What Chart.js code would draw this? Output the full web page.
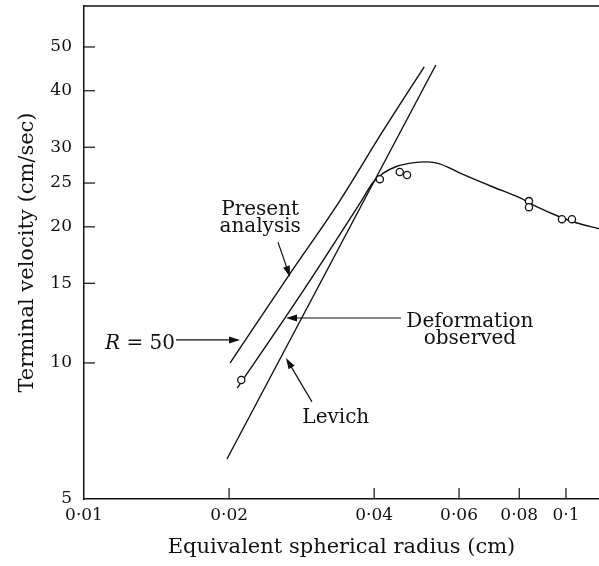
<!DOCTYPE html>
<html>
<head>
<meta charset="utf-8">
<script src="https://cdn.jsdelivr.net/npm/chart.js@4"></script>
<style>
  body { margin: 0; background: #fff; }
  canvas { display: block; }
</style>
</head>
<body>
<canvas id="myChart" width="599" height="566"></canvas>
<script>
// values (x: radius in cm, y: velocity in cm/sec)
const presentX = [0.0201, 0.0268, 0.0340, 0.0415, 0.0508];
const presentY = [10.0, 15.8, 22.9, 32.3, 45.2];

const levichX = [0.0198, 0.0537];
const levichY = [6.13, 45.6];

const observedX = [0.0208, 0.0277, 0.0377, 0.0398, 0.0418, 0.0445, 0.0480, 0.0515, 0.0545, 0.0603, 0.0706, 0.0803, 0.0871, 0.0972, 0.1054, 0.1171];
const observedY = [8.8, 13.8, 22.9, 25.1, 26.3, 27.2, 27.7, 27.85, 27.6, 26.3, 24.5, 23.17, 22.13, 21.03, 20.4, 19.8];

const circleX = [0.0212, 0.0411, 0.0452, 0.0468, 0.0838, 0.0838, 0.0981, 0.1029];
const circleY = [9.17, 25.5, 26.45, 26.04, 22.8, 22.1, 20.8, 20.8];

const xTicks = [0.01, 0.02, 0.04, 0.06, 0.08, 0.1];
const yTicks = [5, 10, 15, 20, 25, 30, 40, 50];

// text labels and arrows, placed in data units
const notes = [
  { lines: ['Present', 'analysis'], x: 0.0232, y: 21.25 },
  { lines: ['Deformation', 'observed'], x: 0.0632, y: 12.0 },
  { lines: ['Levich'], x: 0.0333, y: 7.36 }
];
const rNote = { x: 0.01106, y: 10.73 };
const arrows = [
  [0.02526, 18.5, 0.02676, 15.5],
  [0.01552, 11.24, 0.02107, 11.24],
  [0.04547, 12.57, 0.02625, 12.57],
  [0.02972, 8.2, 0.02625, 10.25]
];

function pairs(xs, ys) {
  return xs.map((x, i) => ({ x: x, y: ys[i] }));
}

function arrow(ctx, x1, y1, x2, y2) {
  const ang = Math.atan2(y2 - y1, x2 - x1);
  const len = 11, half = 3.5;
  ctx.beginPath();
  ctx.moveTo(x1, y1);
  ctx.lineTo(x2 - Math.cos(ang) * len * 0.8, y2 - Math.sin(ang) * len * 0.8);
  ctx.stroke();
  ctx.beginPath();
  ctx.moveTo(x2, y2);
  ctx.lineTo(x2 - Math.cos(ang) * len - Math.sin(ang) * half, y2 - Math.sin(ang) * len + Math.cos(ang) * half);
  ctx.lineTo(x2 - Math.cos(ang) * len + Math.sin(ang) * half, y2 - Math.sin(ang) * len - Math.cos(ang) * half);
  ctx.closePath();
  ctx.fill();
}

const extras = {
  id: 'extras',
  afterDraw(chart) {
    const ctx = chart.ctx;
    const xs = chart.scales.x, ys = chart.scales.y;
    const area = chart.chartArea;
    ctx.save();
    ctx.strokeStyle = '#111';
    ctx.fillStyle = '#111';

    // top frame line
    ctx.lineWidth = 1.5;
    ctx.beginPath();
    ctx.moveTo(area.left, area.top);
    ctx.lineTo(area.right, area.top);
    ctx.stroke();

    // tick marks pointing into the plot
    ctx.lineWidth = 1.2;
    xs.ticks.forEach(t => {
      const px = xs.getPixelForValue(t.value);
      if (px - area.left < 2) return;
      ctx.beginPath();
      ctx.moveTo(px, area.bottom);
      ctx.lineTo(px, area.bottom - 11);
      ctx.stroke();
    });
    ys.ticks.forEach(t => {
      const py = ys.getPixelForValue(t.value);
      if (area.bottom - py < 2) return;
      ctx.beginPath();
      ctx.moveTo(area.left, py);
      ctx.lineTo(area.left + 11, py);
      ctx.stroke();
    });

    // labels
    ctx.font = '20px "DejaVu Serif"';
    ctx.textAlign = 'center';
    ctx.textBaseline = 'alphabetic';
    notes.forEach(n => {
      const px = xs.getPixelForValue(n.x), py = ys.getPixelForValue(n.y);
      n.lines.forEach((s, i) => ctx.fillText(s, px, py + i * 17));
    });

    // R = 50 with italic R
    const rx = xs.getPixelForValue(rNote.x), ry = ys.getPixelForValue(rNote.y);
    ctx.textAlign = 'left';
    ctx.font = 'italic 20px "DejaVu Serif"';
    ctx.fillText('R', rx, ry);
    const rw = ctx.measureText('R').width;
    ctx.font = '20px "DejaVu Serif"';
    ctx.fillText(' = 50', rx + rw, ry);

    // arrows
    ctx.lineWidth = 1.2;
    arrows.forEach(a => {
      arrow(ctx, xs.getPixelForValue(a[0]), ys.getPixelForValue(a[1]),
        xs.getPixelForValue(a[2]), ys.getPixelForValue(a[3]));
    });
    ctx.restore();
  }
};

Chart.defaults.font.family = '"DejaVu Serif", serif';
Chart.defaults.color = '#111';

const ctx = document.getElementById('myChart');

new Chart(ctx, {
  type: 'line',
  data: {
    datasets: [{
      label: 'Observed points',
      data: pairs(circleX, circleY),
      showLine: false,
      pointRadius: 3.6,
      pointBorderWidth: 1.3,
      pointBorderColor: '#111',
      pointBackgroundColor: '#fff'
    }, {
      label: 'Deformation observed',
      data: pairs(observedX, observedY),
      borderColor: '#111',
      borderWidth: 1.4,
      pointRadius: 0,
      cubicInterpolationMode: 'monotone'
    }, {
      label: 'Present analysis',
      data: pairs(presentX, presentY),
      borderColor: '#111',
      borderWidth: 1.4,
      pointRadius: 0,
      cubicInterpolationMode: 'monotone'
    }, {
      label: 'Levich',
      data: pairs(levichX, levichY),
      borderColor: '#111',
      borderWidth: 1.4,
      pointRadius: 0
    }]
  },
  options: {
    responsive: false,
    animation: false,
    layout: { autoPadding: false, padding: { top: 6, right: 0, left: 0, bottom: 0 } },
    plugins: {
      legend: { display: false },
      tooltip: { enabled: false }
    },
    scales: {
      x: {
        type: 'logarithmic',
        min: 0.01,
        max: 0.1171,
        grid: { display: false, drawTicks: false },
        border: { color: '#111', width: 1.5 },
        ticks: {
          font: { size: 17 },
          padding: 6,
          autoSkip: false,
          maxRotation: 0,
          callback: v => String(v).replace('.', '·')
        },
        afterBuildTicks: s => { s.ticks = xTicks.map(v => ({ value: v })); },
        afterFit: s => {
          s.height = 67;
          s.paddingLeft = 0;
          s.paddingRight = 0;
        },
        title: {
          display: true,
          text: 'Equivalent spherical radius (cm)',
          font: { size: 21 },
          padding: { top: 0, bottom: 6 }
        }
      },
      y: {
        type: 'logarithmic',
        min: 5,
        max: 61.6,
        grid: { display: false, drawTicks: false },
        border: { color: '#111', width: 1.5 },
        ticks: {
          font: { size: 17 },
          padding: 12,
          autoSkip: false,
          callback: v => String(v)
        },
        afterBuildTicks: s => { s.ticks = yTicks.map(v => ({ value: v })); },
        afterFit: s => {
          s.width = 84;
          s.paddingTop = 0;
          s.paddingBottom = 0;
        },
        title: {
          display: true,
          text: 'Terminal velocity (cm/sec)',
          font: { size: 21 },
          padding: { top: 15, bottom: 0 }
        }
      }
    }
  },
  plugins: [extras]
});
</script>
</body>
</html>
